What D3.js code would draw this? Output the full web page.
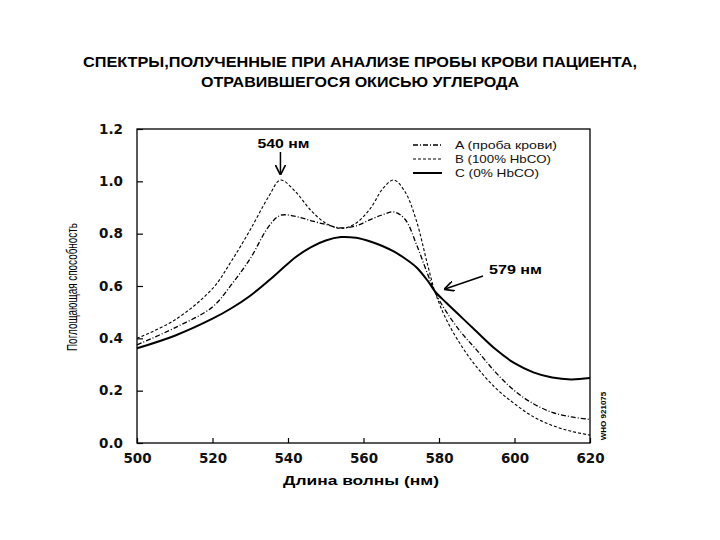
<!DOCTYPE html>
<html><head><meta charset="utf-8">
<script src="https://cdn.jsdelivr.net/npm/d3@7"></script>
<style>body{margin:0;background:#fff}svg{font-family:"Liberation Sans",Arial,sans-serif}</style>
</head><body><svg id="c" width="720" height="540"></svg>
<script>
const wavelengths = [500,510,520,525,530,535,538,542,546,550,554,558,562,565,568,571,574,577,579,582,586,590,595,600,605,610,615,620];
const seriesA = [0.375,0.44,0.52,0.605,0.705,0.83,0.87,0.866,0.85,0.835,0.822,0.83,0.855,0.872,0.883,0.855,0.76,0.645,0.575,0.50,0.42,0.355,0.27,0.20,0.15,0.117,0.10,0.09];
const seriesB = [0.40,0.47,0.59,0.695,0.815,0.945,1.005,0.96,0.89,0.84,0.82,0.84,0.90,0.97,1.005,0.96,0.85,0.68,0.575,0.47,0.37,0.29,0.21,0.15,0.10,0.067,0.045,0.03];
const seriesC = [0.362,0.41,0.475,0.515,0.563,0.622,0.66,0.71,0.748,0.774,0.787,0.784,0.769,0.753,0.732,0.705,0.672,0.62,0.578,0.535,0.48,0.425,0.358,0.305,0.27,0.25,0.243,0.248];
const legendLabels = ["A (проба крови)","B (100% HbCO)","C (0% HbCO)"];
const xTicks = [500,520,540,560,580,600,620];
const yTicks = [0.0,0.2,0.4,0.6,0.8,1.0,1.2];
const titleLines = ["СПЕКТРЫ,ПОЛУЧЕННЫЕ ПРИ АНАЛИЗЕ ПРОБЫ КРОВИ ПАЦИЕНТА,","ОТРАВИВШЕГОСЯ ОКИСЬЮ УГЛЕРОДА"];

const svg = d3.select("#c");
const L=137,R=590,T=129,B=443;
const x = d3.scaleLinear().domain([500,620]).range([L,R]);
const y = d3.scaleLinear().domain([0,1.2]).range([B,T]);

const titleW = [554,318];
svg.selectAll("text.title").data(titleLines).enter().append("text")
  .attr("x",360).attr("y",(d,i)=>67+i*20).attr("text-anchor","middle")
  .attr("font-size",15).attr("font-weight","bold")
  .attr("textLength",(d,i)=>titleW[i]).attr("lengthAdjust","spacingAndGlyphs").text(d=>d);

svg.append("rect").attr("x",L).attr("y",T).attr("width",R-L).attr("height",B-T)
  .attr("fill","none").attr("stroke","#000").attr("stroke-width",1.3);

const gx = svg.append("g").attr("transform",`translate(0,${B})`)
  .call(d3.axisBottom(x).tickValues(xTicks).tickSizeInner(-5).tickSizeOuter(0).tickPadding(10).tickFormat(d3.format("d")));
const gy = svg.append("g").attr("transform",`translate(${L},0)`)
  .call(d3.axisLeft(y).tickValues(yTicks).tickSizeInner(-6).tickSizeOuter(0).tickPadding(14).tickFormat(d3.format(".1f")));
[gx,gy].forEach(g=>{
  g.select(".domain").remove();
  g.selectAll("line").attr("stroke","#000").attr("stroke-width",1.2);
  g.selectAll("text").attr("font-size",13.5).attr("font-weight","bold").attr("fill","#111")
   .attr("font-family","DejaVu Sans, sans-serif");
});

const line = d3.line().x((d,i)=>x(wavelengths[i])).y(d=>y(d)).curve(d3.curveCatmullRom.alpha(0.5));
const styles = [
  {data:seriesA, dash:"5,2,1,2", w:1.3},
  {data:seriesB, dash:"3,2", w:1.1},
  {data:seriesC, dash:null, w:2}
];
styles.forEach(s=>{
  svg.append("path").attr("d",line(s.data)).attr("fill","none").attr("stroke","#000")
    .attr("stroke-width",s.w).attr("stroke-dasharray",s.dash);
});

const legW=[102,96,84];
styles.forEach((s,i)=>{
  const yy = 145+i*14;
  svg.append("line").attr("x1",413).attr("x2",442).attr("y1",yy).attr("y2",yy)
    .attr("stroke","#000").attr("stroke-width",s.w).attr("stroke-dasharray",s.dash);
  svg.append("text").attr("x",455).attr("y",yy+4).attr("font-size",11.5).attr("fill","#111")
    .attr("textLength",legW[i]).attr("lengthAdjust","spacingAndGlyphs").text(legendLabels[i]);
});

const defs = svg.append("defs");
defs.append("marker").attr("id","ah").attr("viewBox","0 0 10 10").attr("refX",9).attr("refY",5)
  .attr("markerWidth",7).attr("markerHeight",7).attr("orient","auto")
  .append("path").attr("d","M0,0 L10,5 L0,10").attr("fill","none").attr("stroke","#000").attr("stroke-width",1.6);
svg.append("text").attr("x",x(538)+3).attr("y",148).attr("text-anchor","middle").attr("font-size",13).attr("font-weight","bold")
  .attr("textLength",52).attr("lengthAdjust","spacingAndGlyphs").text("540 нм");
svg.append("line").attr("x1",x(538)).attr("x2",x(538)).attr("y1",152).attr("y2",174)
  .attr("stroke","#000").attr("stroke-width",1.5).attr("marker-end","url(#ah)");
svg.append("text").attr("x",489).attr("y",274).attr("font-size",13).attr("font-weight","bold")
  .attr("textLength",53).attr("lengthAdjust","spacingAndGlyphs").text("579 нм");
svg.append("line").attr("x1",483).attr("y1",276).attr("x2",445).attr("y2",289)
  .attr("stroke","#000").attr("stroke-width",1.5).attr("marker-end","url(#ah)");

svg.append("text").attr("x",361).attr("y",485).attr("text-anchor","middle").attr("font-size",13.5).attr("font-weight","bold")
  .attr("textLength",156).attr("lengthAdjust","spacingAndGlyphs").text("Длина волны (нм)");
svg.append("text").attr("transform","translate(77,287) rotate(-90)").attr("text-anchor","middle")
  .attr("font-size",14).attr("textLength",128).attr("lengthAdjust","spacingAndGlyphs").text("Поглощающая способность");
svg.append("text").attr("transform","translate(606,416) rotate(-90)").attr("text-anchor","middle")
  .attr("font-size",8).attr("font-weight","bold").text("WHO 921075");
</script></body></html>
